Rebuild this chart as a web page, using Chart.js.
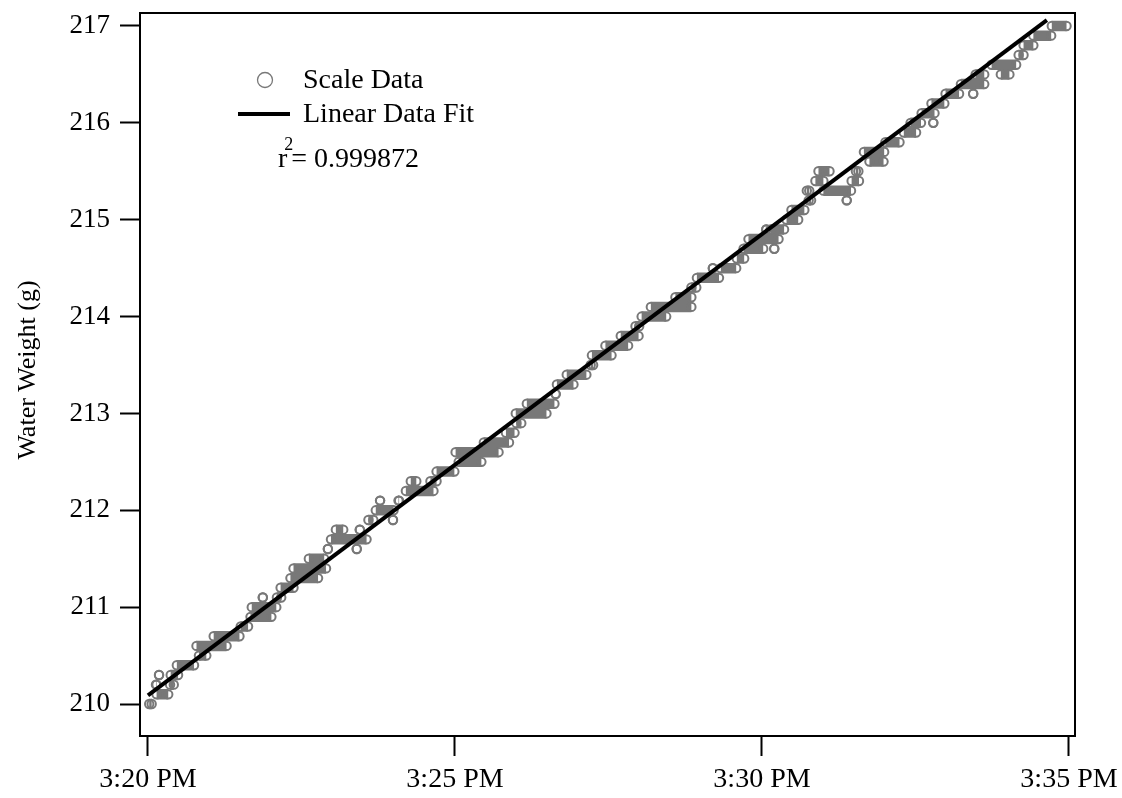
<!DOCTYPE html>
<html>
<head>
<meta charset="utf-8">
<script src="https://cdn.jsdelivr.net/npm/chart.js@4"></script>
<style>
  body { margin: 0; background: #fff; }
  #wrap { width: 1122px; height: 798px; }
</style>
</head>
<body>
<div id="wrap"><canvas id="myChart" width="1122" height="798"></canvas></div>
<script>
// scale readings, grouped into runs at one 0.1 g level (minutes after 3:20 PM)
const runWeight = [
  210.0, 210.1, 210.2, 210.2, 210.3, 210.3, 210.4, 210.5, 210.6, 210.7,
  210.8, 210.9, 211.0, 211.1, 211.1, 211.2, 211.3, 211.4, 211.5, 211.6,
  211.6, 211.7, 211.8, 211.8, 211.9, 211.9, 212.0, 212.1, 212.1, 212.2,
  212.3, 212.3, 212.4, 212.5, 212.6, 212.7, 212.8, 212.9, 213.0, 213.1,
  213.2, 213.3, 213.4, 213.5, 213.6, 213.7, 213.8, 213.9, 214.0, 214.1,
  214.2, 214.3, 214.4, 214.5, 214.5, 214.6, 214.7, 214.7, 214.8, 214.9,
  214.9, 215.0, 215.1, 215.2, 215.2, 215.3, 215.3, 215.4, 215.4, 215.5,
  215.5, 215.6, 215.7, 215.8, 215.9, 216.0, 216.0, 216.1, 216.2, 216.3,
  216.3, 216.4, 216.5, 216.5, 216.6, 216.7, 216.8, 216.9, 217.0
];
const runStart = [
  0.02, 0.14, 0.13, 0.36, 0.18, 0.37, 0.47, 0.83, 0.79, 1.07,
  1.51, 1.67, 1.69, 1.87, 2.10, 2.16, 2.32, 2.37, 2.62, 2.93,
  3.40, 2.98, 3.06, 3.45, 3.59, 3.99, 3.71, 3.78, 4.08, 4.20,
  4.28, 4.60, 4.70, 5.06, 5.01, 5.47, 5.83, 6.00, 5.99, 6.17,
  6.64, 6.66, 6.82, 7.21, 7.23, 7.45, 7.70, 7.94, 8.04, 8.19,
  8.59, 8.85, 8.94, 9.20, 9.33, 9.59, 9.70, 10.20, 9.78, 10.07,
  10.14, 10.40, 10.48, 10.76, 11.38, 10.73, 11.00, 10.87, 11.46, 10.92,
  11.53, 11.75, 11.66, 12.01, 12.31, 12.42, 12.79, 12.60, 12.76, 12.99,
  13.44, 13.24, 13.48, 13.89, 13.74, 14.18, 14.26, 14.42, 14.72
];
const runEnd = [
  0.06, 0.33, 0.14, 0.42, 0.18, 0.49, 0.75, 0.95, 1.28, 1.49,
  1.63, 2.01, 2.09, 1.87, 2.17, 2.37, 2.77, 2.90, 2.87, 2.93,
  3.40, 3.56, 3.18, 3.45, 3.67, 3.99, 4.00, 3.78, 4.09, 4.65,
  4.37, 4.70, 4.99, 5.43, 5.71, 5.88, 5.97, 6.08, 6.49, 6.62,
  6.64, 6.93, 7.14, 7.25, 7.55, 7.82, 7.99, 8.00, 8.44, 8.85,
  8.85, 8.93, 9.30, 9.20, 9.58, 9.71, 10.02, 10.20, 10.27, 10.07,
  10.36, 10.59, 10.69, 10.80, 11.38, 10.77, 11.45, 11.00, 11.58, 11.10,
  11.57, 11.98, 11.99, 12.24, 12.51, 12.59, 12.79, 12.81, 12.97, 13.21,
  13.44, 13.62, 13.62, 14.03, 14.14, 14.26, 14.42, 14.71, 14.96
];

// linear fit end points
const fitTime = [0, 14.64];
const fitWeight = [210.09, 217.06];
const rSquared = '0.999872';

const xTickMinutes = [0, 5, 10, 15];
const xTickLabels = ['3:20 PM', '3:25 PM', '3:30 PM', '3:35 PM'];
const yTicks = [210, 211, 212, 213, 214, 215, 216, 217];

const GRAY = '#787878';
const FONT = "'Liberation Serif', 'DejaVu Serif', serif";

const scaleData = [];
runWeight.forEach((w, i) => {
  scaleData.push({ x: runStart[i], y: w });
  scaleData.push({ x: runEnd[i], y: w });
  scaleData.push({ x: runEnd[i], y: null });
});
const fitData = fitTime.map((t, i) => ({ x: t, y: fitWeight[i] }));

const extras = {
  id: 'extras',
  afterDraw(chart) {
    const { ctx, chartArea: a } = chart;
    ctx.save();
    // frame
    ctx.strokeStyle = '#000';
    ctx.lineWidth = 2;
    ctx.strokeRect(a.left, a.top, a.right - a.left, a.bottom - a.top);

    // y title
    ctx.fillStyle = '#000';
    ctx.font = '26px ' + FONT;
    ctx.textAlign = 'center';
    ctx.textBaseline = 'middle';
    ctx.save();
    ctx.translate(28, 370);
    ctx.rotate(-Math.PI / 2);
    ctx.fillText('Water Weight (g)', 0, 0);
    ctx.restore();

    // legend
    ctx.font = '28px ' + FONT;
    ctx.textAlign = 'left';
    ctx.beginPath();
    ctx.arc(265, 80, 7.5, 0, Math.PI * 2);
    ctx.strokeStyle = GRAY;
    ctx.lineWidth = 1.3;
    ctx.stroke();
    ctx.fillText('Scale Data', 303, 81);

    ctx.beginPath();
    ctx.moveTo(238, 114);
    ctx.lineTo(290, 114);
    ctx.strokeStyle = '#000';
    ctx.lineWidth = 4;
    ctx.stroke();
    ctx.fillText('Linear Data Fit', 303, 115);

    ctx.fillText('r', 278, 160);
    const rw = ctx.measureText('r').width;
    ctx.font = '18px ' + FONT;
    ctx.fillText('2', 278 + rw - 3, 145);
    ctx.font = '28px ' + FONT;
    ctx.fillText('= ' + rSquared, 278 + rw + 4, 160);
    ctx.restore();
  }
};

new Chart(document.getElementById('myChart'), {
  type: 'line',
  data: {
    datasets: [
      {
        label: 'Linear Data Fit',
        data: fitData,
        borderColor: '#000',
        borderWidth: 4,
        pointRadius: 0
      },
      {
        label: 'Scale Data',
        data: scaleData,
        borderColor: GRAY,
        borderWidth: 10.5,
        borderCapStyle: 'butt',
        spanGaps: false,
        pointRadius: 4.2,
        pointBorderWidth: 2,
        pointBorderColor: GRAY,
        pointBackgroundColor: 'rgba(255,255,255,0)'
      }
    ]
  },
  options: {
    responsive: false,
    animation: false,
    layout: { padding: { top: 13, right: 47, left: 0, bottom: 0 } },
    plugins: {
      legend: { display: false },
      tooltip: { enabled: false }
    },
    scales: {
      x: {
        type: 'linear',
        min: -0.13,
        max: 15.098,
        afterBuildTicks(s) { s.ticks = xTickMinutes.map(v => ({ value: v })); },
        afterFit(s) { s.height = 62; s.paddingLeft = 0; s.paddingRight = 0; },
        border: { display: false },
        grid: { drawOnChartArea: false, tickLength: 20, tickColor: '#000', tickWidth: 2 },
        ticks: {
          padding: 7,
          color: '#000',
          font: { family: FONT, size: 28 },
          maxRotation: 0,
          callback: (v, i) => xTickLabels[i]
        }
      },
      y: {
        min: 209.67,
        max: 217.134,
        afterBuildTicks(s) { s.ticks = yTicks.map(v => ({ value: v })); },
        afterFit(s) { s.width = 140; s.paddingTop = 0; s.paddingBottom = 0; },
        border: { display: false },
        grid: { drawOnChartArea: false, tickLength: 20, tickColor: '#000', tickWidth: 2 },
        ticks: {
          padding: 10,
          color: '#000',
          font: { family: FONT, size: 27 },
          callback: v => String(v)
        }
      }
    }
  },
  plugins: [extras]
});
</script>
</body>
</html>
